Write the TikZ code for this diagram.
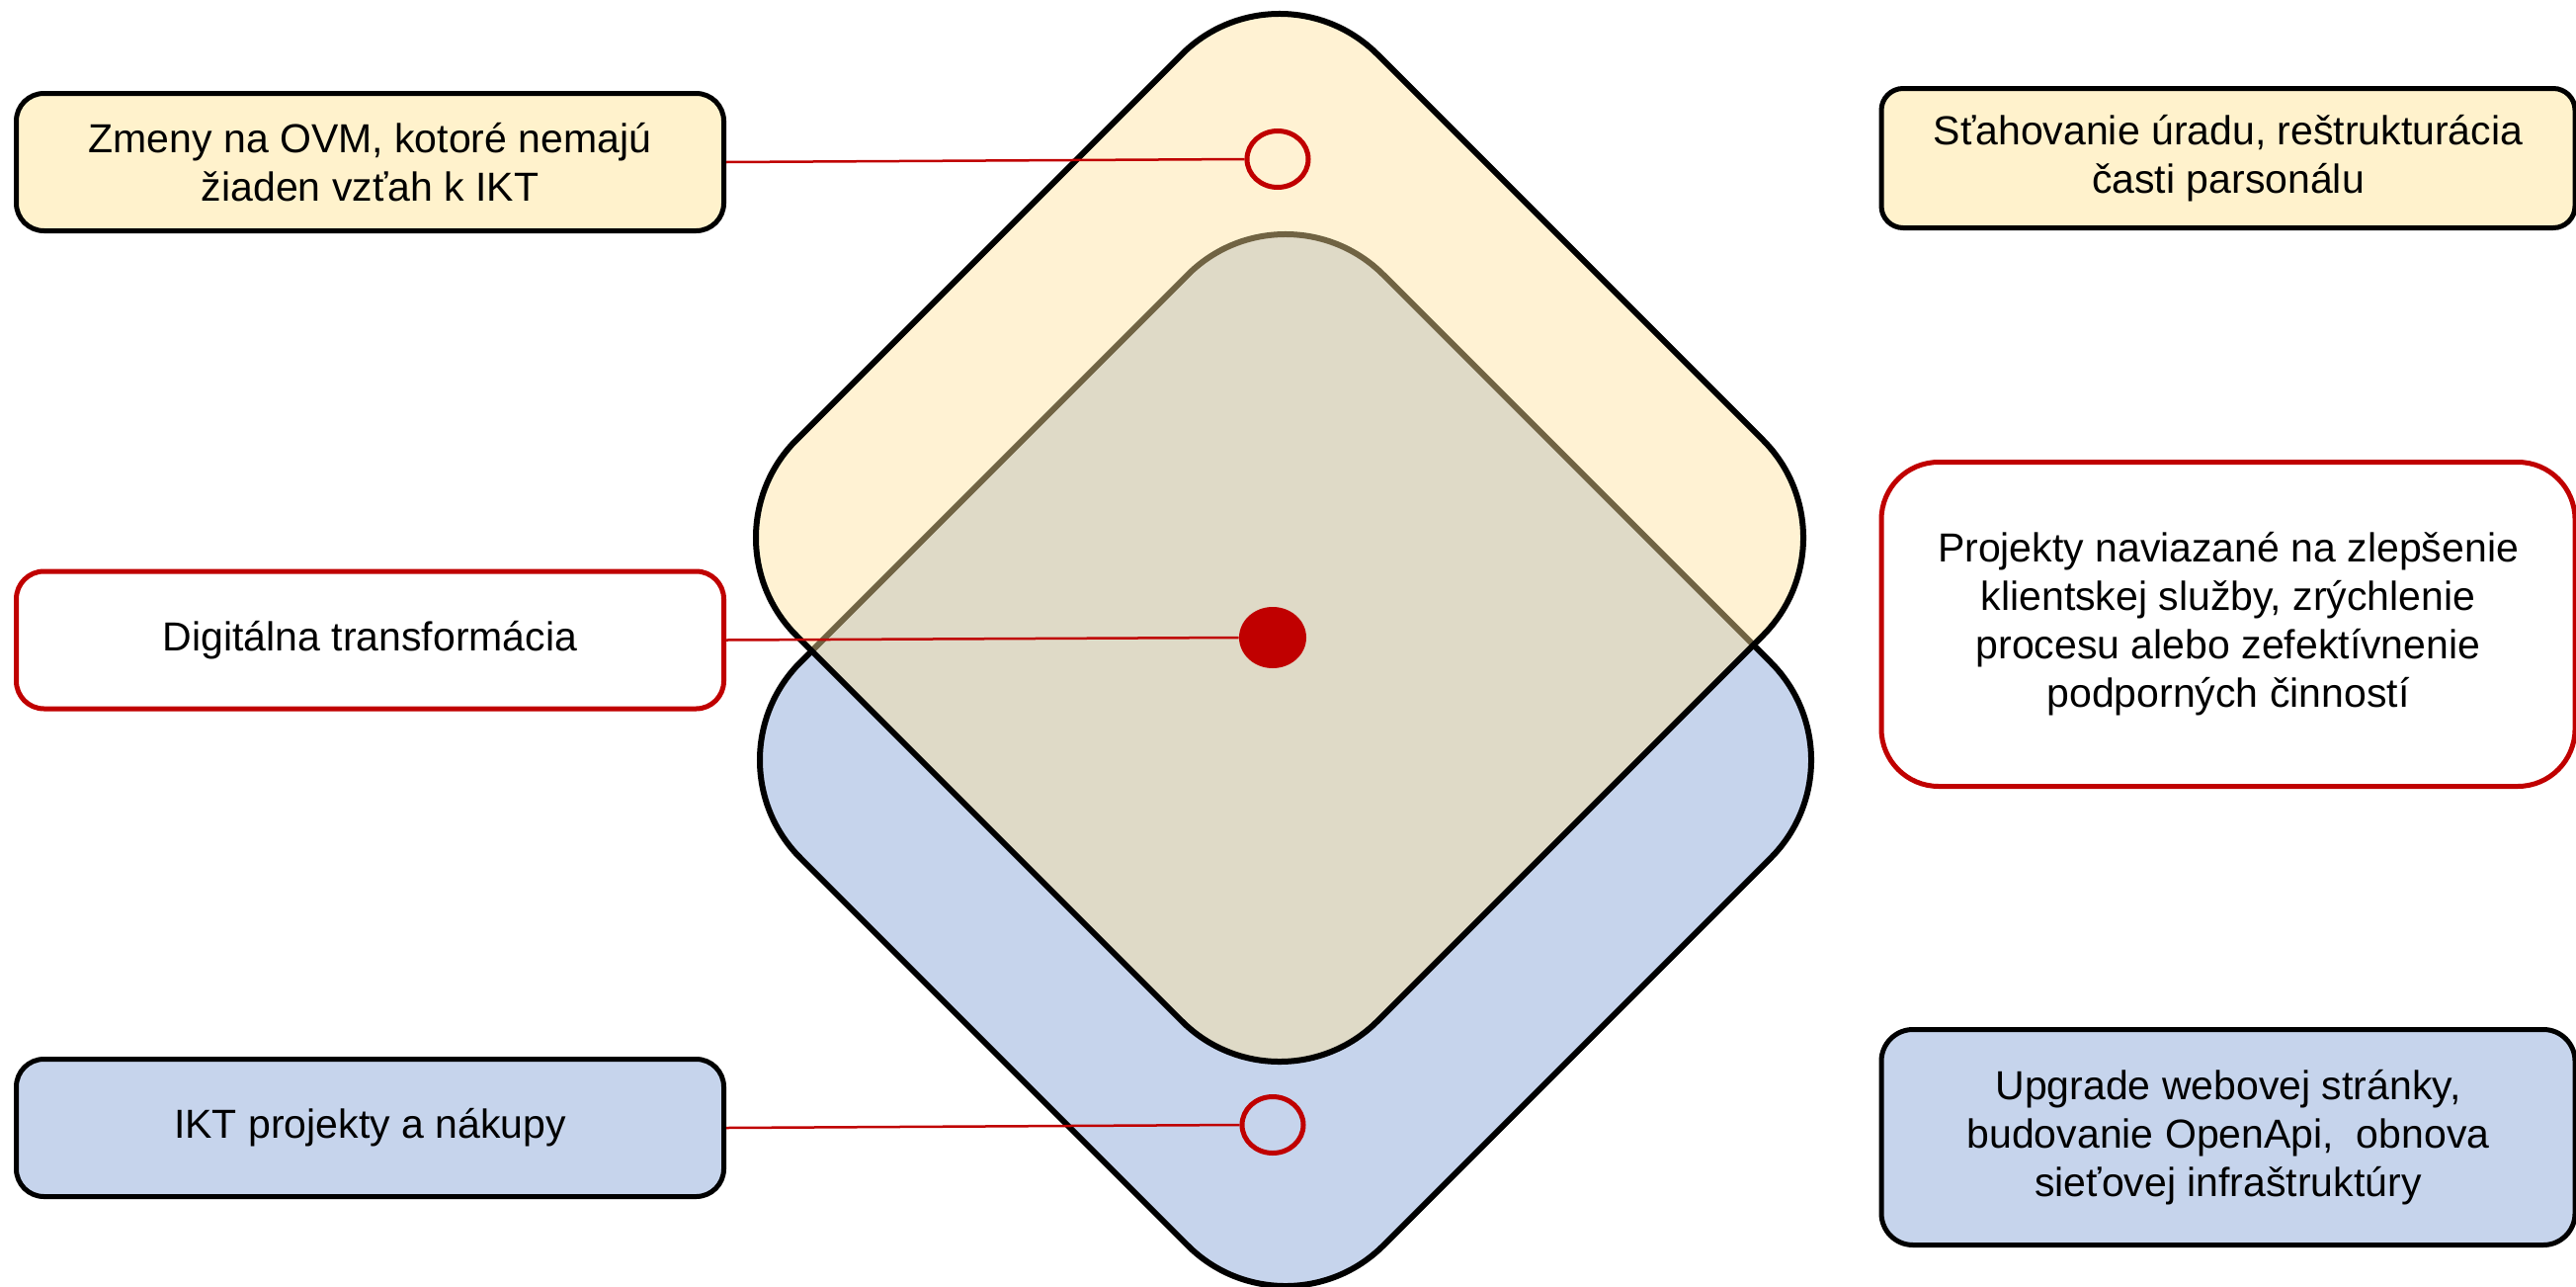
\documentclass[tikz,border=0pt]{standalone}
\usepackage{fontspec}
\setmainfont{Liberation Sans}
\usetikzlibrary{shapes.geometric}
\definecolor{yel}{HTML}{FFF2CC}
\definecolor{yelbase}{HTML}{FFE29A}
\definecolor{blu}{HTML}{C6D4EC}
\definecolor{dred}{HTML}{C00000}
\begin{document}
\begin{tikzpicture}[x=0.5pt,y=-0.5pt,
  box/.style={rectangle, line width=2.5pt, align=center, inner sep=0pt,
    font=\fontsize{20.5}{24.5}\selectfont, text=black},
  leftbox/.style={box, minimum width=358pt, minimum height=69.5pt, rounded corners=14pt},
  rightbox/.style={box, minimum width=351pt},
  ring/.style={ellipse, draw=dred, line width=2.5pt, inner sep=0pt, minimum width=31pt, minimum height=28.5pt},
  dot/.style={ellipse, fill=dred, inner sep=0pt, minimum width=34pt, minimum height=31pt},
  link/.style={draw=dred, line width=1.25pt},
  diam/.style={draw=black, line width=3pt, rounded corners=70pt}
]
\useasboundingbox (0,0) rectangle (2607,1301);
% diamonds
\path[diam, fill=blu] (1301,179) -- (1891,769) -- (1301,1359) -- (711,769) -- cycle;
\path[diam, fill=yelbase, fill opacity=0.44] (1295,-44) -- (1883,544) -- (1295,1132) -- (707,544) -- cycle;
% left boxes
\node[leftbox, draw=black, fill=yel] (b1) at (374.5,164) {Zmeny na OVM, kotoré nemajú\\žiaden vzťah k IKT};
\node[leftbox, draw=dred, fill=white] (b2) at (374.5,647.5) {Digitálna transformácia};
\node[leftbox, draw=black, fill=blu] (b3) at (374.5,1141) {IKT projekty a nákupy};
% right boxes
\node[rightbox, draw=black, fill=yel, minimum height=70.5pt, rounded corners=11pt] (b4) at (2255,160) {Sťahovanie úradu, reštrukturácia\\časti parsonálu};
\node[rightbox, draw=dred, fill=white, minimum height=164pt, rounded corners=29pt] (b5) at (2255,631.5) {Projekty naviazané na zlepšenie\\klientskej služby, zrýchlenie\\procesu alebo zefektívnenie\\podporných činností};
\node[rightbox, draw=black, fill=blu, minimum height=109pt, rounded corners=16pt] (b6) at (2255,1150.5) {Upgrade webovej stránky,\\budovanie OpenApi,\ \ obnova\\sieťovej infraštruktúry};
% markers
\node[ring] (e1) at (1293,161) {};
\node[dot] (e2) at (1288,645) {};
\node[ring] (e3) at (1288,1138) {};
% connectors
\draw[link] (b1.east) -- (e1.west);
\draw[link] (b2.east) -- (e2.west);
\draw[link] (b3.east) -- (e3.west);
\end{tikzpicture}
\end{document}
